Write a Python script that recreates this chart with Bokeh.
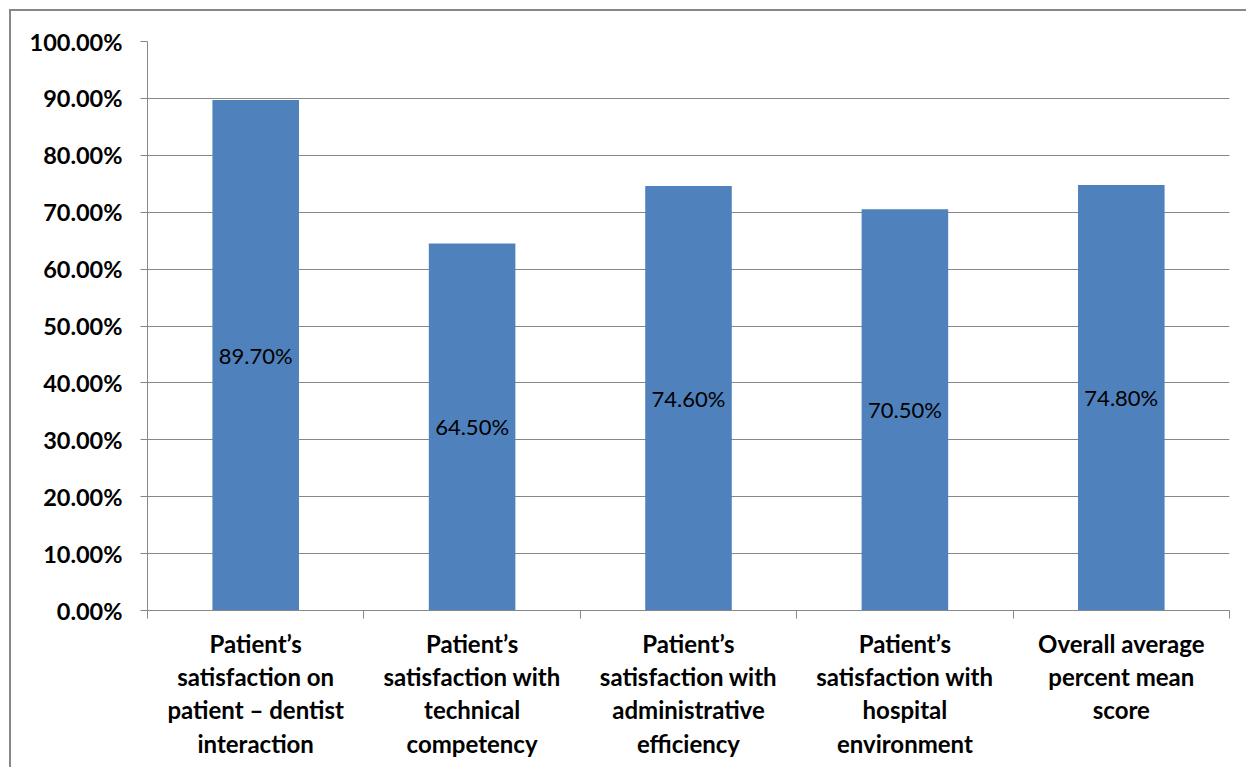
from bokeh.plotting import figure
from bokeh.models import ColumnDataSource, Range1d, FixedTicker, LabelSet
from bokeh.core.properties import value
from bokeh.embed import file_html
from bokeh.resources import INLINE

categories = [
    "Patient\u2019s\nsatisfaction on\npatient \u2013 dentist\ninteraction",
    "Patient\u2019s\nsatisfaction with\ntechnical\ncompetency",
    "Patient\u2019s\nsatisfaction with\nadministrative\nefficiency",
    "Patient\u2019s\nsatisfaction with\nhospital\nenvironment",
    "Overall average\npercent mean\nscore",
]
values = [89.70, 64.50, 74.60, 70.50, 74.80]
y_ticks = [0, 10, 20, 30, 40, 50, 60, 70, 80, 90, 100]
y_tick_labels = ["0.00%", "10.00%", "20.00%", "30.00%", "40.00%", "50.00%",
                 "60.00%", "70.00%", "80.00%", "90.00%", "100.00%"]

n = len(categories)
xs = [i + 0.5 for i in range(n)]
src = ColumnDataSource(dict(
    x=xs,
    top=values,
    mid=[v / 2 for v in values],
    label=["%.2f%%" % v for v in values],
))

GRAY = "#878787"
FONT = "Lato"
OFF = 11  # chart-area border offset

p = figure(width=1248 - OFF, height=769 - OFF, output_backend="svg", toolbar_location=None,
           x_range=Range1d(0, n), y_range=Range1d(0, 100),
           min_border_left=147 - OFF, min_border_right=19, min_border_top=41 - OFF,
           min_border_bottom=159)
p.styles = {"margin-left": "9px", "margin-top": "9px",
            "border-left": "2px solid " + GRAY, "border-top": "2px solid " + GRAY}
p.outline_line_color = None
p.background_fill_color = "white"
p.border_fill_color = "white"

p.vbar(x="x", top="top", bottom=0, width=0.4, source=src,
       fill_color="#4F81BD", line_color=None)

labels = LabelSet(x="x", y="mid", text="label", source=src,
                  text_align="center", text_baseline="middle",
                  text_font=value(FONT), text_font_size="22px", text_color="black")
p.add_layout(labels)

# y axis
p.yaxis.ticker = FixedTicker(ticks=y_ticks)
p.yaxis.major_label_overrides = {t: l for t, l in zip(y_ticks, y_tick_labels)}
p.yaxis.major_label_text_font = FONT
p.yaxis.major_label_text_font_style = "bold"
p.yaxis.major_label_text_font_size = "23.5px"
p.yaxis.major_label_text_color = "black"
p.yaxis.major_label_standoff = 18
p.yaxis.axis_line_color = GRAY
p.yaxis.major_tick_line_color = GRAY
p.yaxis.major_tick_out = 7
p.yaxis.major_tick_in = 0
p.yaxis.minor_tick_line_color = None

# x axis
p.xaxis.ticker = FixedTicker(ticks=xs, minor_ticks=list(range(n + 1)))
p.xaxis.major_label_overrides = {x: c for x, c in zip(xs, categories)}
p.xaxis.major_label_text_font = FONT
p.xaxis.major_label_text_font_style = "bold"
p.xaxis.major_label_text_font_size = "24px"
p.xaxis.major_label_text_line_height = 1.15
p.xaxis.major_label_text_color = "black"
p.xaxis.major_label_standoff = 10
p.xaxis.axis_line_color = GRAY
p.xaxis.major_tick_line_color = None
p.xaxis.minor_tick_line_color = GRAY
p.xaxis.minor_tick_out = 8
p.xaxis.minor_tick_in = 0

p.xgrid.grid_line_color = None
p.ygrid.grid_line_color = GRAY
p.ygrid.grid_line_width = 1

open("out.html", "w").write(file_html(p, INLINE))
